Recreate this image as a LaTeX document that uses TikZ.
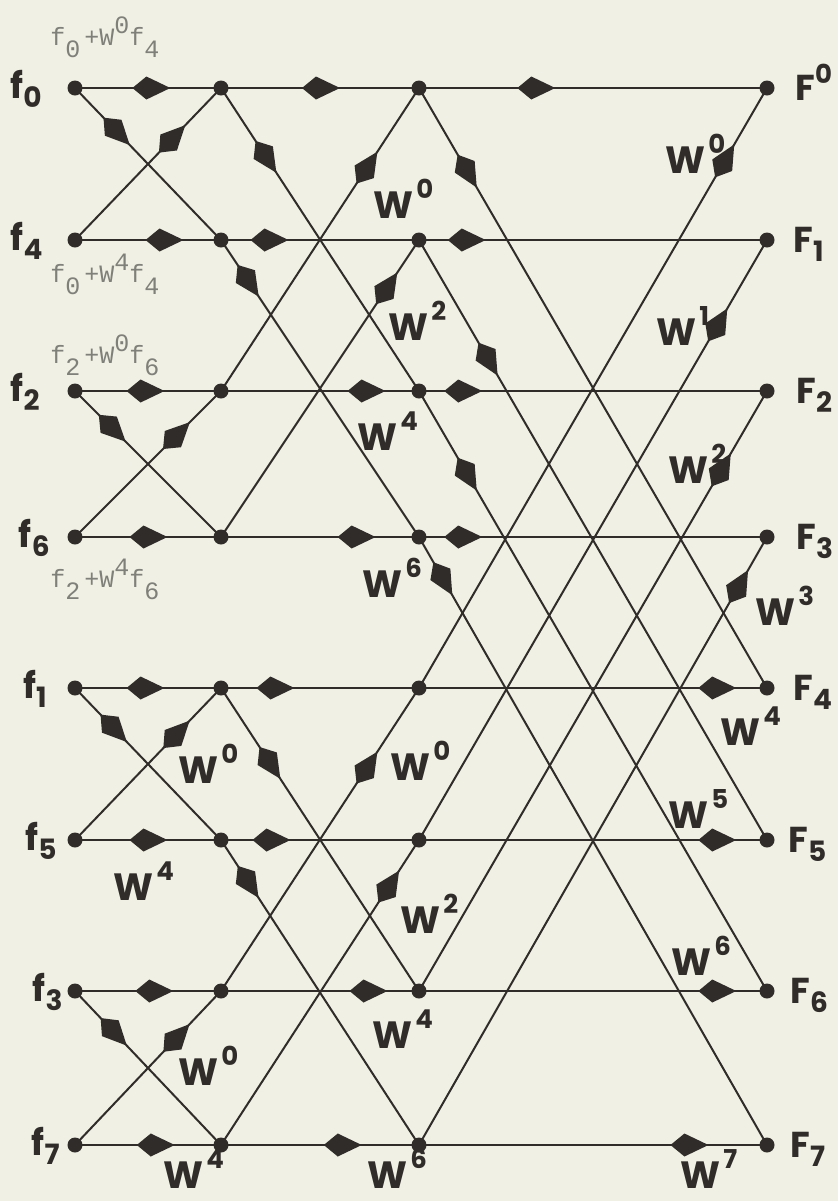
\documentclass[tikz,border=0pt]{standalone}
\usepackage{fontspec}
\setmainfont{Poppins}
\newfontfamily\typer{Liberation Mono}
\usetikzlibrary{arrows.meta,decorations.markings}
\definecolor{paper}{RGB}{240,240,228}
\definecolor{ink}{RGB}{48,44,42}
\definecolor{pencil}{RGB}{128,128,122}
\newcommand\lsub[1]{\raisebox{-4.5pt}{\fontsize{14}{14}\selectfont#1}}
\newcommand\lsup[1]{\raisebox{8.5pt}{\fontsize{13}{13}\selectfont#1}}
\newcommand\pw[1]{W\kern1.5pt\raisebox{10pt}{\fontsize{13}{13}\selectfont#1}}
\newcommand\tsub[1]{\raisebox{-6pt}{#1}}
\newcommand\tsup[1]{\raisebox{6pt}{#1}}
\tikzset{
  dot/.style={circle,fill=ink,inner sep=0pt,minimum size=7.5pt},
  wire/.style={draw=ink,line width=1pt},
  mid/.style={postaction={decorate},decoration={markings,
    mark=at position #1 with {\arrow[xshift=9pt,ink]{Kite[length=19pt,width=11.5pt,inset=7pt]}}}},
  inlbl/.style={anchor=base east,inner sep=0pt,text=ink,
    font=\fontsize{18}{18}\selectfont\bfseries},
  outlbl/.style={anchor=base west,inner sep=0pt,text=ink,
    font=\fontsize{18}{18}\selectfont\bfseries},
  wlbl/.style={anchor=base west,inner sep=0pt,text=ink,
    font=\fontsize{19}{19}\selectfont\bfseries},
  sum/.style={anchor=base west,inner sep=0pt,text=pencil,
    font=\typer\fontsize{12.5}{12.5}\selectfont},
}
\begin{document}
\begin{tikzpicture}[x=0.5pt,y=-0.5pt]
  \useasboundingbox (0,0) rectangle (838,1201);
  \fill[paper] (0,0) rectangle (838,1201);

  \foreach \y [count=\r from 0] in {88,240,391,537,688,840,991,1145}{
    \foreach \c/\x in {a/75,b/221,c/419,d/767}
      \node[dot] (\c\r) at (\x,\y) {};
  }

  % butterflies: columns, rows, arrow positions (upper, lower, down, up)
  \foreach \L/\R/\u/\v/\p/\q/\s/\t in {
      a/b/0/1/.53/.62/.29/.67, a/b/2/3/.49/.51/.26/.70,
      a/b/4/5/.49/.51/.27/.70, a/b/6/7/.55/.56/.27/.70,
      b/c/0/2/.51/.74/.23/.74, b/c/1/3/.25/.69/.14/.84,
      b/c/4/6/.28/.75/.25/.74, b/c/5/7/.26/.62/.14/.85,
      c/d/0/4/.34/.86/.14/.88, c/d/1/5/.14/.86/.20/.86,
      c/d/2/6/.13/.86/.14/.87, c/d/3/7/.13/.78/.07/.92}{
    \draw[wire,mid=\p] (\L\u.center) -- (\R\u.center);
    \draw[wire,mid=\q] (\L\v.center) -- (\R\v.center);
    \draw[wire,mid=\s] (\L\u.center) -- (\R\v.center);
    \draw[wire,mid=\t] (\L\v.center) -- (\R\u.center);
  }

  \foreach \k/\e [count=\r from 0] in {0/42,4/43,2/40,6/50,1/47,5/57,3/63,7/60}
    \node[inlbl,yshift=-5pt] (in\r) at (\e,0 |- a\r) {f\lsub{\k}};
  \foreach \t/\e [count=\r from 0] in {\lsup{0}/795,\lsub{1}/793,\lsub{2}/796,\lsub{3}/796,
      \lsub{4}/793,\lsub{5}/788,\lsub{6}/790,\lsub{7}/790}
    \node[outlbl,yshift=-6pt] (out\r) at (\e,0 |- d\r) {F\t};

  \foreach \n/\x/\y [count=\i] in {0/373/218, 0/665/173, 2/388/340, 4/357/450,
      6/362/597, 1/656/345, 2/668/483, 3/755/625, 4/720/745, 5/668/828,
      6/671/975, 7/680/1188, 0/178/783, 4/113/900, 0/390/780, 2/400/933,
      4/372/1048, 6/367/1188, 0/178/1085, 4/163/1188}
    \node[wlbl] (w\i) at (\x,\y) {\pw{\n}};

  \node[sum] (s0) at (50,45) {f\tsub{0}\kern2pt+W\tsup{0}f\tsub{4}};
  \node[sum] (s1) at (50,282) {f\tsub{0}\kern2pt+W\tsup{4}f\tsub{4}};
  \node[sum] (s2) at (50,363) {f\tsub{2}\kern2pt+W\tsup{0}f\tsub{6}};
  \node[sum] (s3) at (50,587) {f\tsub{2}\kern2pt+W\tsup{4}f\tsub{6}};
\end{tikzpicture}
\end{document}
